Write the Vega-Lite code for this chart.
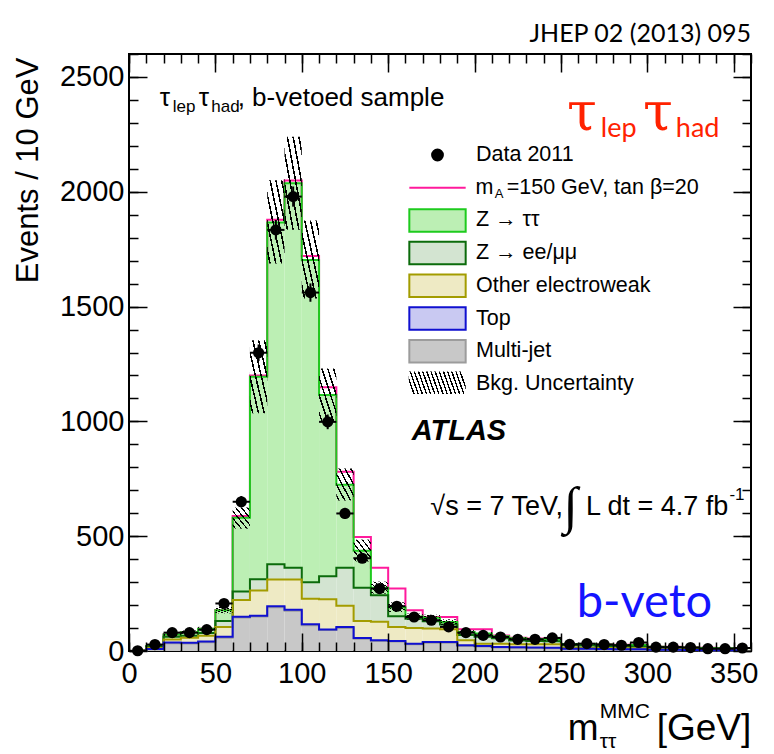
{
  "$schema": "https://vega.github.io/schema/vega-lite/v6.json",
  "width": 622,
  "height": 597,
  "autosize": {"type": "none"},
  "padding": {"left": 129, "top": 54, "right": 23, "bottom": 103},
  "background": "white",
  "config": {"view": {"stroke": "black", "strokeWidth": 2}},
  "resolve": {"axis": {"x": "independent", "y": "independent"}},
  "datasets": {
    "bins": [
      {"lo": 0, "hi": 10, "m": 5, "mj": 0, "top": 0, "ew": 1, "zll": 1, "ztt": 2, "sig": 2, "u_lo": 2, "u_hi": 2, "n": 1, "err": 1},
      {"lo": 10, "hi": 20, "m": 15, "mj": 8, "top": 9, "ew": 13, "zll": 18, "ztt": 22, "sig": 22, "u_lo": 20, "u_hi": 24, "n": 28, "err": 5},
      {"lo": 20, "hi": 30, "m": 25, "mj": 34, "top": 37, "ew": 50, "zll": 62, "ztt": 72, "sig": 72, "u_lo": 66, "u_hi": 78, "n": 80, "err": 9},
      {"lo": 30, "hi": 40, "m": 35, "mj": 33, "top": 36, "ew": 58, "zll": 66, "ztt": 82, "sig": 82, "u_lo": 75, "u_hi": 89, "n": 80, "err": 9},
      {"lo": 40, "hi": 50, "m": 45, "mj": 38, "top": 41, "ew": 66, "zll": 78, "ztt": 97, "sig": 97, "u_lo": 89, "u_hi": 105, "n": 93, "err": 10},
      {"lo": 50, "hi": 60, "m": 55, "mj": 58, "top": 62, "ew": 105, "zll": 131, "ztt": 178, "sig": 179, "u_lo": 164, "u_hi": 192, "n": 207, "err": 14},
      {"lo": 60, "hi": 70, "m": 65, "mj": 146, "top": 149, "ew": 222, "zll": 259, "ztt": 580, "sig": 588, "u_lo": 533, "u_hi": 625, "n": 650, "err": 25},
      {"lo": 70, "hi": 80, "m": 75, "mj": 150, "top": 154, "ew": 263, "zll": 313, "ztt": 1194, "sig": 1200, "u_lo": 1035, "u_hi": 1353, "n": 1299, "err": 36},
      {"lo": 80, "hi": 90, "m": 85, "mj": 190, "top": 195, "ew": 311, "zll": 378, "ztt": 1866, "sig": 1878, "u_lo": 1688, "u_hi": 2050, "n": 1834, "err": 43},
      {"lo": 90, "hi": 100, "m": 95, "mj": 175, "top": 180, "ew": 311, "zll": 363, "ztt": 2037, "sig": 2049, "u_lo": 1835, "u_hi": 2240, "n": 1979, "err": 44},
      {"lo": 100, "hi": 110, "m": 105, "mj": 112, "top": 117, "ew": 228, "zll": 299, "ztt": 1703, "sig": 1720, "u_lo": 1535, "u_hi": 1875, "n": 1561, "err": 40},
      {"lo": 110, "hi": 120, "m": 115, "mj": 91, "top": 94, "ew": 225, "zll": 326, "ztt": 1115, "sig": 1149, "u_lo": 1000, "u_hi": 1230, "n": 998, "err": 32},
      {"lo": 120, "hi": 130, "m": 125, "mj": 100, "top": 105, "ew": 197, "zll": 363, "ztt": 724, "sig": 781, "u_lo": 655, "u_hi": 795, "n": 599, "err": 24},
      {"lo": 130, "hi": 140, "m": 135, "mj": 53, "top": 57, "ew": 131, "zll": 276, "ztt": 437, "sig": 496, "u_lo": 390, "u_hi": 485, "n": 404, "err": 20},
      {"lo": 140, "hi": 150, "m": 145, "mj": 44, "top": 47, "ew": 127, "zll": 243, "ztt": 276, "sig": 363, "u_lo": 250, "u_hi": 302, "n": 272, "err": 16},
      {"lo": 150, "hi": 160, "m": 155, "mj": 41, "top": 44, "ew": 105, "zll": 151, "ztt": 191, "sig": 272, "u_lo": 170, "u_hi": 212, "n": 195, "err": 14},
      {"lo": 160, "hi": 170, "m": 165, "mj": 29, "top": 32, "ew": 100, "zll": 140, "ztt": 150, "sig": 177, "u_lo": 137, "u_hi": 163, "n": 148, "err": 12},
      {"lo": 170, "hi": 180, "m": 175, "mj": 36, "top": 39, "ew": 98, "zll": 130, "ztt": 145, "sig": 148, "u_lo": 132, "u_hi": 158, "n": 134, "err": 12},
      {"lo": 180, "hi": 190, "m": 185, "mj": 36, "top": 39, "ew": 95, "zll": 115, "ztt": 126, "sig": 148, "u_lo": 114, "u_hi": 138, "n": 105, "err": 10},
      {"lo": 190, "hi": 200, "m": 195, "mj": 22, "top": 25, "ew": 47, "zll": 70, "ztt": 83, "sig": 95, "u_lo": 75, "u_hi": 91, "n": 80, "err": 9},
      {"lo": 200, "hi": 210, "m": 205, "mj": 20, "top": 22, "ew": 32, "zll": 62, "ztt": 76, "sig": 95, "u_lo": 69, "u_hi": 83, "n": 68, "err": 8},
      {"lo": 210, "hi": 220, "m": 215, "mj": 15, "top": 17, "ew": 32, "zll": 55, "ztt": 64, "sig": 68, "u_lo": 58, "u_hi": 70, "n": 61, "err": 8},
      {"lo": 220, "hi": 230, "m": 225, "mj": 14, "top": 16, "ew": 29, "zll": 46, "ztt": 55, "sig": 58, "u_lo": 50, "u_hi": 60, "n": 51, "err": 7},
      {"lo": 230, "hi": 240, "m": 235, "mj": 13, "top": 15, "ew": 29, "zll": 44, "ztt": 52, "sig": 54, "u_lo": 47, "u_hi": 57, "n": 51, "err": 7},
      {"lo": 240, "hi": 250, "m": 245, "mj": 12, "top": 14, "ew": 29, "zll": 42, "ztt": 50, "sig": 52, "u_lo": 45, "u_hi": 55, "n": 57, "err": 8},
      {"lo": 250, "hi": 260, "m": 255, "mj": 8, "top": 10, "ew": 15, "zll": 25, "ztt": 30, "sig": 31, "u_lo": 27, "u_hi": 33, "n": 29, "err": 5},
      {"lo": 260, "hi": 270, "m": 265, "mj": 8, "top": 10, "ew": 14, "zll": 24, "ztt": 30, "sig": 31, "u_lo": 27, "u_hi": 33, "n": 32, "err": 6},
      {"lo": 270, "hi": 280, "m": 275, "mj": 7, "top": 9, "ew": 13, "zll": 22, "ztt": 28, "sig": 29, "u_lo": 25, "u_hi": 31, "n": 28, "err": 5},
      {"lo": 280, "hi": 290, "m": 285, "mj": 6, "top": 8, "ew": 12, "zll": 20, "ztt": 26, "sig": 27, "u_lo": 23, "u_hi": 29, "n": 25, "err": 5},
      {"lo": 290, "hi": 300, "m": 295, "mj": 6, "top": 8, "ew": 12, "zll": 20, "ztt": 26, "sig": 27, "u_lo": 23, "u_hi": 29, "n": 37, "err": 6},
      {"lo": 300, "hi": 310, "m": 305, "mj": 3, "top": 5, "ew": 8, "zll": 14, "ztt": 18, "sig": 19, "u_lo": 16, "u_hi": 20, "n": 17, "err": 4},
      {"lo": 310, "hi": 320, "m": 315, "mj": 3, "top": 5, "ew": 8, "zll": 13, "ztt": 17, "sig": 18, "u_lo": 15, "u_hi": 19, "n": 17, "err": 4},
      {"lo": 320, "hi": 330, "m": 325, "mj": 3, "top": 4, "ew": 7, "zll": 12, "ztt": 15, "sig": 16, "u_lo": 13, "u_hi": 17, "n": 15, "err": 4},
      {"lo": 330, "hi": 340, "m": 335, "mj": 2, "top": 3, "ew": 6, "zll": 10, "ztt": 13, "sig": 14, "u_lo": 12, "u_hi": 14, "n": 10, "err": 3},
      {"lo": 340, "hi": 350, "m": 345, "mj": 2, "top": 3, "ew": 6, "zll": 10, "ztt": 12, "sig": 13, "u_lo": 11, "u_hi": 13, "n": 10, "err": 3},
      {"lo": 350, "hi": 360, "m": 355, "mj": 2, "top": 3, "ew": 6, "zll": 10, "ztt": 12, "sig": 13, "u_lo": 11, "u_hi": 13, "n": 13, "err": 4}
    ],
    "keys": [
      {"comp": "Data 2011"},
      {"comp": "signal"},
      {"comp": "Z → ττ"},
      {"comp": "Z → ee/μμ"},
      {"comp": "Other electroweak"},
      {"comp": "Top"},
      {"comp": "Multi-jet"},
      {"comp": "Bkg. Uncertainty"}
    ]
  },
  "layer": [
    {
      "data": {"name": "bins"},
      "mark": {"type": "bar", "fill": "#c8c8c8"},
      "encoding": {
        "x": {"field": "lo", "type": "quantitative", "scale": {"domain": [0, 360], "nice": false},
          "axis": {"orient": "bottom", "values": [0, 50, 100, 150, 200, 250, 300, 350], "tickSize": -18, "labelPadding": 26, "labelFlush": false, "labelOverlap": false, "labelBound": false, "format": "d", "labelFont": "Liberation Sans", "labelFontSize": 29, "labelColor": "black", "domain": false, "grid": false, "tickColor": "black", "tickWidth": 1.5, "zindex": 1, "title": null}},
        "x2": {"field": "hi"},
        "y": {"field": "mj", "type": "quantitative", "scale": {"domain": [0, 2600], "nice": false},
          "axis": {"orient": "left", "values": [0, 500, 1000, 1500, 2000, 2500], "tickSize": -18, "labelPadding": 23, "labelAlign": "right", "labelBaseline": "middle", "labelOverlap": false, "labelBound": false, "labelFlush": false, "format": "d", "labelFont": "Liberation Sans", "labelFontSize": 29, "labelColor": "black", "domain": false, "grid": false, "tickColor": "black", "tickWidth": 1.5, "zindex": 1,
            "title": "Events / 10 GeV", "titleFont": "Liberation Sans", "titleFontSize": 31, "titleFontWeight": "normal", "titleColor": "black", "titleAngle": 270, "titleAlign": "right", "titleBaseline": "alphabetic", "titleX": -92, "titleY": 3}},
        "y2": {"datum": 0}
      }
    },
    {
      "data": {"name": "bins"},
      "mark": {"type": "bar", "fill": "#c9c9f2"},
      "encoding": {
        "x": {"field": "lo", "type": "quantitative", "scale": {"domain": [0, 360], "nice": false},
          "axis": {"orient": "bottom", "values": [0, 10, 20, 30, 40, 50, 60, 70, 80, 90, 100, 110, 120, 130, 140, 150, 160, 170, 180, 190, 200, 210, 220, 230, 240, 250, 260, 270, 280, 290, 300, 310, 320, 330, 340, 350, 360], "tickSize": -9, "labels": false, "domain": false, "grid": false, "tickColor": "black", "tickWidth": 1.5, "zindex": 1, "title": null}},
        "x2": {"field": "hi"},
        "y": {"field": "top", "type": "quantitative", "scale": {"domain": [0, 2600], "nice": false},
          "axis": {"orient": "left", "values": [0, 100, 200, 300, 400, 500, 600, 700, 800, 900, 1000, 1100, 1200, 1300, 1400, 1500, 1600, 1700, 1800, 1900, 2000, 2100, 2200, 2300, 2400, 2500, 2600], "tickSize": -9, "labels": false, "domain": false, "grid": false, "tickColor": "black", "tickWidth": 1.5, "zindex": 1, "title": null}},
        "y2": {"field": "mj"}
      }
    },
    {
      "data": {"name": "bins"},
      "mark": {"type": "bar", "fill": "#eeeac4"},
      "encoding": {
        "x": {"field": "lo", "type": "quantitative", "scale": {"domain": [0, 360], "nice": false},
          "axis": {"orient": "top", "values": [0, 50, 100, 150, 200, 250, 300, 350], "tickSize": -18, "labels": false, "domain": false, "grid": false, "tickColor": "black", "tickWidth": 1.5, "zindex": 1, "title": null}},
        "x2": {"field": "hi"},
        "y": {"field": "ew", "type": "quantitative", "scale": {"domain": [0, 2600], "nice": false},
          "axis": {"orient": "right", "values": [0, 500, 1000, 1500, 2000, 2500], "tickSize": -18, "labels": false, "domain": false, "grid": false, "tickColor": "black", "tickWidth": 1.5, "zindex": 1, "title": null}},
        "y2": {"field": "top"}
      }
    },
    {
      "data": {"name": "bins"},
      "mark": {"type": "bar", "fill": "#d3e4d1"},
      "encoding": {
        "x": {"field": "lo", "type": "quantitative", "scale": {"domain": [0, 360], "nice": false},
          "axis": {"orient": "top", "values": [0, 10, 20, 30, 40, 50, 60, 70, 80, 90, 100, 110, 120, 130, 140, 150, 160, 170, 180, 190, 200, 210, 220, 230, 240, 250, 260, 270, 280, 290, 300, 310, 320, 330, 340, 350, 360], "tickSize": -9, "labels": false, "domain": false, "grid": false, "tickColor": "black", "tickWidth": 1.5, "zindex": 1, "title": null}},
        "x2": {"field": "hi"},
        "y": {"field": "zll", "type": "quantitative", "scale": {"domain": [0, 2600], "nice": false},
          "axis": {"orient": "right", "values": [0, 100, 200, 300, 400, 500, 600, 700, 800, 900, 1000, 1100, 1200, 1300, 1400, 1500, 1600, 1700, 1800, 1900, 2000, 2100, 2200, 2300, 2400, 2500, 2600], "tickSize": -9, "labels": false, "domain": false, "grid": false, "tickColor": "black", "tickWidth": 1.5, "zindex": 1, "title": null}},
        "y2": {"field": "ew"}
      }
    },
    {
      "data": {"name": "bins"},
      "mark": {"type": "bar", "fill": "#bcefb4"},
      "encoding": {
        "x": {"field": "lo", "type": "quantitative", "scale": {"domain": [0, 360], "nice": false}, "axis": null},
        "x2": {"field": "hi"},
        "y": {"field": "ztt", "type": "quantitative", "scale": {"domain": [0, 2600], "nice": false}, "axis": null},
        "y2": {"field": "zll"}
      }
    },
    {
      "data": {"name": "bins"},
      "mark": {"type": "line", "interpolate": "step", "stroke": "#ff1a9c", "strokeWidth": 2},
      "encoding": {
        "x": {"field": "m", "type": "quantitative", "scale": {"domain": [0, 360], "nice": false}, "axis": null},
        "y": {"field": "sig", "type": "quantitative", "scale": {"domain": [0, 2600], "nice": false}, "axis": null}
      }
    },
    {
      "data": {"name": "bins"},
      "mark": {"type": "line", "interpolate": "step", "stroke": "#1ecb1e", "strokeWidth": 2},
      "encoding": {
        "x": {"field": "m", "type": "quantitative", "scale": {"domain": [0, 360], "nice": false}, "axis": null},
        "y": {"field": "ztt", "type": "quantitative", "scale": {"domain": [0, 2600], "nice": false}, "axis": null}
      }
    },
    {
      "data": {"name": "bins"},
      "mark": {"type": "line", "interpolate": "step", "stroke": "#0b6b0b", "strokeWidth": 2},
      "encoding": {
        "x": {"field": "m", "type": "quantitative", "scale": {"domain": [0, 360], "nice": false}, "axis": null},
        "y": {"field": "zll", "type": "quantitative", "scale": {"domain": [0, 2600], "nice": false}, "axis": null}
      }
    },
    {
      "data": {"name": "bins"},
      "mark": {"type": "line", "interpolate": "step", "stroke": "#a39c00", "strokeWidth": 2},
      "encoding": {
        "x": {"field": "m", "type": "quantitative", "scale": {"domain": [0, 360], "nice": false}, "axis": null},
        "y": {"field": "ew", "type": "quantitative", "scale": {"domain": [0, 2600], "nice": false}, "axis": null}
      }
    },
    {
      "data": {"name": "bins"},
      "mark": {"type": "line", "interpolate": "step", "stroke": "#9c9c9c", "strokeWidth": 2},
      "encoding": {
        "x": {"field": "m", "type": "quantitative", "scale": {"domain": [0, 360], "nice": false}, "axis": null},
        "y": {"field": "mj", "type": "quantitative", "scale": {"domain": [0, 2600], "nice": false}, "axis": null}
      }
    },
    {
      "data": {"name": "bins"},
      "mark": {"type": "line", "interpolate": "step", "stroke": "#1010d0", "strokeWidth": 2},
      "encoding": {
        "x": {"field": "m", "type": "quantitative", "scale": {"domain": [0, 360], "nice": false}, "axis": null},
        "y": {"field": "top", "type": "quantitative", "scale": {"domain": [0, 2600], "nice": false}, "axis": null}
      }
    },
    {
      "data": {"name": "bins"},
      "mark": {"type": "bar", "fill": {"gradient": "linear", "x1": 0, "y1": 1, "x2": 1, "y2": 0, "stops": [
        {"offset": 0, "color": "rgba(0,0,0,0)"},
        {"offset": 0.06, "color": "rgba(0,0,0,0)"}, {"offset": 0.06, "color": "#000"}, {"offset": 0.105, "color": "#000"}, {"offset": 0.105, "color": "rgba(0,0,0,0)"},
        {"offset": 0.2267, "color": "rgba(0,0,0,0)"}, {"offset": 0.2267, "color": "#000"}, {"offset": 0.2717, "color": "#000"}, {"offset": 0.2717, "color": "rgba(0,0,0,0)"},
        {"offset": 0.3933, "color": "rgba(0,0,0,0)"}, {"offset": 0.3933, "color": "#000"}, {"offset": 0.4383, "color": "#000"}, {"offset": 0.4383, "color": "rgba(0,0,0,0)"},
        {"offset": 0.56, "color": "rgba(0,0,0,0)"}, {"offset": 0.56, "color": "#000"}, {"offset": 0.605, "color": "#000"}, {"offset": 0.605, "color": "rgba(0,0,0,0)"},
        {"offset": 0.7267, "color": "rgba(0,0,0,0)"}, {"offset": 0.7267, "color": "#000"}, {"offset": 0.7717, "color": "#000"}, {"offset": 0.7717, "color": "rgba(0,0,0,0)"},
        {"offset": 0.8933, "color": "rgba(0,0,0,0)"}, {"offset": 0.8933, "color": "#000"}, {"offset": 0.9383, "color": "#000"}, {"offset": 0.9383, "color": "rgba(0,0,0,0)"},
        {"offset": 1, "color": "rgba(0,0,0,0)"}
      ]}},
      "encoding": {
        "x": {"field": "lo", "type": "quantitative", "scale": {"domain": [0, 360], "nice": false}, "axis": null},
        "x2": {"field": "hi"},
        "y": {"field": "u_hi", "type": "quantitative", "scale": {"domain": [0, 2600], "nice": false}, "axis": null},
        "y2": {"field": "u_lo"}
      }
    },
    {
      "data": {"name": "bins"},
      "mark": {"type": "rule", "color": "black", "strokeWidth": 2},
      "encoding": {
        "x": {"field": "lo", "type": "quantitative", "scale": {"domain": [0, 360], "nice": false}, "axis": null},
        "x2": {"field": "hi"},
        "y": {"field": "n", "type": "quantitative", "scale": {"domain": [0, 2600], "nice": false}, "axis": null}
      }
    },
    {
      "data": {"name": "bins"},
      "mark": {"type": "errorbar", "ticks": false, "thickness": 2, "color": "black"},
      "encoding": {
        "x": {"field": "m", "type": "quantitative", "scale": {"domain": [0, 360], "nice": false}, "axis": null},
        "y": {"field": "n", "type": "quantitative", "scale": {"domain": [0, 2600], "nice": false}, "axis": null, "title": null},
        "yError": {"field": "err"}
      }
    },
    {
      "data": {"name": "bins"},
      "mark": {"type": "circle", "size": 125, "color": "black", "opacity": 1},
      "encoding": {
        "x": {"field": "m", "type": "quantitative", "scale": {"domain": [0, 360], "nice": false}, "axis": null},
        "y": {"field": "n", "type": "quantitative", "scale": {"domain": [0, 2600], "nice": false}, "axis": null}
      }
    },
    {
      "data": {"values": [{}]},
      "mark": {"type": "bar", "fill": {"gradient": "linear", "x1": 0, "y1": 0.57, "x2": 1, "y2": 0.43, "stops": [
        {"offset": 0, "color": "rgba(0,0,0,0)"},
        {"offset": 0.02, "color": "rgba(0,0,0,0)"}, {"offset": 0.02, "color": "#000"}, {"offset": 0.045, "color": "#000"}, {"offset": 0.045, "color": "rgba(0,0,0,0)"},
        {"offset": 0.0914, "color": "rgba(0,0,0,0)"}, {"offset": 0.0914, "color": "#000"}, {"offset": 0.1164, "color": "#000"}, {"offset": 0.1164, "color": "rgba(0,0,0,0)"},
        {"offset": 0.1629, "color": "rgba(0,0,0,0)"}, {"offset": 0.1629, "color": "#000"}, {"offset": 0.1879, "color": "#000"}, {"offset": 0.1879, "color": "rgba(0,0,0,0)"},
        {"offset": 0.2343, "color": "rgba(0,0,0,0)"}, {"offset": 0.2343, "color": "#000"}, {"offset": 0.2593, "color": "#000"}, {"offset": 0.2593, "color": "rgba(0,0,0,0)"},
        {"offset": 0.3057, "color": "rgba(0,0,0,0)"}, {"offset": 0.3057, "color": "#000"}, {"offset": 0.3307, "color": "#000"}, {"offset": 0.3307, "color": "rgba(0,0,0,0)"},
        {"offset": 0.3771, "color": "rgba(0,0,0,0)"}, {"offset": 0.3771, "color": "#000"}, {"offset": 0.4021, "color": "#000"}, {"offset": 0.4021, "color": "rgba(0,0,0,0)"},
        {"offset": 0.4486, "color": "rgba(0,0,0,0)"}, {"offset": 0.4486, "color": "#000"}, {"offset": 0.4736, "color": "#000"}, {"offset": 0.4736, "color": "rgba(0,0,0,0)"},
        {"offset": 0.52, "color": "rgba(0,0,0,0)"}, {"offset": 0.52, "color": "#000"}, {"offset": 0.545, "color": "#000"}, {"offset": 0.545, "color": "rgba(0,0,0,0)"},
        {"offset": 0.5914, "color": "rgba(0,0,0,0)"}, {"offset": 0.5914, "color": "#000"}, {"offset": 0.6164, "color": "#000"}, {"offset": 0.6164, "color": "rgba(0,0,0,0)"},
        {"offset": 0.6629, "color": "rgba(0,0,0,0)"}, {"offset": 0.6629, "color": "#000"}, {"offset": 0.6879, "color": "#000"}, {"offset": 0.6879, "color": "rgba(0,0,0,0)"},
        {"offset": 0.7343, "color": "rgba(0,0,0,0)"}, {"offset": 0.7343, "color": "#000"}, {"offset": 0.7593, "color": "#000"}, {"offset": 0.7593, "color": "rgba(0,0,0,0)"},
        {"offset": 0.8057, "color": "rgba(0,0,0,0)"}, {"offset": 0.8057, "color": "#000"}, {"offset": 0.8307, "color": "#000"}, {"offset": 0.8307, "color": "rgba(0,0,0,0)"},
        {"offset": 0.8771, "color": "rgba(0,0,0,0)"}, {"offset": 0.8771, "color": "#000"}, {"offset": 0.9021, "color": "#000"}, {"offset": 0.9021, "color": "rgba(0,0,0,0)"},
        {"offset": 0.9486, "color": "rgba(0,0,0,0)"}, {"offset": 0.9486, "color": "#000"}, {"offset": 0.9736, "color": "#000"}, {"offset": 0.9736, "color": "rgba(0,0,0,0)"},
        {"offset": 1, "color": "rgba(0,0,0,0)"}
      ]}},
      "encoding": {
        "x": {"datum": 161.9, "type": "quantitative", "scale": {"domain": [0, 360], "nice": false}, "axis": null},
        "x2": {"datum": 194.9},
        "y": {"datum": 1217, "type": "quantitative", "scale": {"domain": [0, 2600], "nice": false}, "axis": null},
        "y2": {"datum": 1119}
      }
    },
    {
      "data": {"values": [{}]},
      "mark": {"type": "text", "text": "JHEP 02 (2013) 095", "font": "Lato", "fontSize": 25, "align": "right", "baseline": "alphabetic", "color": "black"},
      "encoding": {"x": {"datum": 360, "type": "quantitative", "scale": {"domain": [0, 360], "nice": false}, "axis": null}, "y": {"datum": 2654, "type": "quantitative", "scale": {"domain": [0, 2600], "nice": false}, "axis": null}}
    },
    {
      "data": {"values": [{}]},
      "mark": {"type": "text", "text": "τ", "font": "Liberation Sans", "fontSize": 26, "align": "left", "baseline": "alphabetic", "color": "black"},
      "encoding": {"x": {"datum": 17.8, "type": "quantitative", "scale": {"domain": [0, 360], "nice": false}, "axis": null}, "y": {"datum": 2374, "type": "quantitative", "scale": {"domain": [0, 2600], "nice": false}, "axis": null}}
    },
    {
      "data": {"values": [{}]},
      "mark": {"type": "text", "text": "lep", "font": "Liberation Sans", "fontSize": 17, "align": "left", "baseline": "alphabetic", "color": "black"},
      "encoding": {"x": {"datum": 25.3, "type": "quantitative", "scale": {"domain": [0, 360], "nice": false}, "axis": null}, "y": {"datum": 2346, "type": "quantitative", "scale": {"domain": [0, 2600], "nice": false}, "axis": null}}
    },
    {
      "data": {"values": [{}]},
      "mark": {"type": "text", "text": "τ", "font": "Liberation Sans", "fontSize": 26, "align": "left", "baseline": "alphabetic", "color": "black"},
      "encoding": {"x": {"datum": 40.3, "type": "quantitative", "scale": {"domain": [0, 360], "nice": false}, "axis": null}, "y": {"datum": 2374, "type": "quantitative", "scale": {"domain": [0, 2600], "nice": false}, "axis": null}}
    },
    {
      "data": {"values": [{}]},
      "mark": {"type": "text", "text": "had", "font": "Liberation Sans", "fontSize": 17, "align": "left", "baseline": "alphabetic", "color": "black"},
      "encoding": {"x": {"datum": 47.6, "type": "quantitative", "scale": {"domain": [0, 360], "nice": false}, "axis": null}, "y": {"datum": 2346, "type": "quantitative", "scale": {"domain": [0, 2600], "nice": false}, "axis": null}}
    },
    {
      "data": {"values": [{}]},
      "mark": {"type": "text", "text": ", b-vetoed sample", "font": "Liberation Sans", "fontSize": 26, "align": "left", "baseline": "alphabetic", "color": "black"},
      "encoding": {"x": {"datum": 62.9, "type": "quantitative", "scale": {"domain": [0, 360], "nice": false}, "axis": null}, "y": {"datum": 2374, "type": "quantitative", "scale": {"domain": [0, 2600], "nice": false}, "axis": null}}
    },
    {
      "data": {"values": [{}]},
      "mark": {"type": "text", "text": "τ", "font": "DejaVu Serif", "fontSize": 54, "align": "left", "baseline": "alphabetic", "color": "#ff2200"},
      "encoding": {"x": {"datum": 253.5, "type": "quantitative", "scale": {"domain": [0, 360], "nice": false}, "axis": null}, "y": {"datum": 2270, "type": "quantitative", "scale": {"domain": [0, 2600], "nice": false}, "axis": null}}
    },
    {
      "data": {"values": [{}]},
      "mark": {"type": "text", "text": "lep", "font": "Lato", "fontSize": 27, "align": "left", "baseline": "alphabetic", "color": "#ff2200"},
      "encoding": {"x": {"datum": 273.1, "type": "quantitative", "scale": {"domain": [0, 360], "nice": false}, "axis": null}, "y": {"datum": 2240, "type": "quantitative", "scale": {"domain": [0, 2600], "nice": false}, "axis": null}}
    },
    {
      "data": {"values": [{}]},
      "mark": {"type": "text", "text": "τ", "font": "DejaVu Serif", "fontSize": 54, "align": "left", "baseline": "alphabetic", "color": "#ff2200"},
      "encoding": {"x": {"datum": 297.5, "type": "quantitative", "scale": {"domain": [0, 360], "nice": false}, "axis": null}, "y": {"datum": 2270, "type": "quantitative", "scale": {"domain": [0, 2600], "nice": false}, "axis": null}}
    },
    {
      "data": {"values": [{}]},
      "mark": {"type": "text", "text": "had", "font": "Lato", "fontSize": 27, "align": "left", "baseline": "alphabetic", "color": "#ff2200"},
      "encoding": {"x": {"datum": 316.5, "type": "quantitative", "scale": {"domain": [0, 360], "nice": false}, "axis": null}, "y": {"datum": 2240, "type": "quantitative", "scale": {"domain": [0, 2600], "nice": false}, "axis": null}}
    },
    {
      "data": {"values": [{}]},
      "mark": {"type": "text", "text": "m", "font": "Liberation Sans", "fontSize": 21.5, "align": "left", "baseline": "alphabetic", "color": "black"},
      "encoding": {"x": {"datum": 200.6, "type": "quantitative", "scale": {"domain": [0, 360], "nice": false}, "axis": null}, "y": {"datum": 1991, "type": "quantitative", "scale": {"domain": [0, 2600], "nice": false}, "axis": null}}
    },
    {
      "data": {"values": [{}]},
      "mark": {"type": "text", "text": "A", "font": "Liberation Sans", "fontSize": 13, "align": "left", "baseline": "alphabetic", "color": "black"},
      "encoding": {"x": {"datum": 211.7, "type": "quantitative", "scale": {"domain": [0, 360], "nice": false}, "axis": null}, "y": {"datum": 1972, "type": "quantitative", "scale": {"domain": [0, 2600], "nice": false}, "axis": null}}
    },
    {
      "data": {"values": [{}]},
      "mark": {"type": "text", "text": "=150 GeV, tan β=20", "font": "Liberation Sans", "fontSize": 21.5, "align": "left", "baseline": "alphabetic", "color": "black"},
      "encoding": {"x": {"datum": 218.6, "type": "quantitative", "scale": {"domain": [0, 360], "nice": false}, "axis": null}, "y": {"datum": 1991, "type": "quantitative", "scale": {"domain": [0, 2600], "nice": false}, "axis": null}}
    },
    {
      "data": {"values": [{}]},
      "mark": {"type": "text", "text": "ATLAS", "font": "Liberation Sans", "fontSize": 29, "fontWeight": "bold", "fontStyle": "italic", "align": "left", "baseline": "alphabetic", "color": "black"},
      "encoding": {"x": {"datum": 163.6, "type": "quantitative", "scale": {"domain": [0, 360], "nice": false}, "axis": null}, "y": {"datum": 918, "type": "quantitative", "scale": {"domain": [0, 2600], "nice": false}, "axis": null}}
    },
    {
      "data": {"values": [{}]},
      "mark": {"type": "text", "text": "√s = 7 TeV,", "font": "Liberation Sans", "fontSize": 27, "align": "left", "baseline": "alphabetic", "color": "black"},
      "encoding": {"x": {"datum": 174.4, "type": "quantitative", "scale": {"domain": [0, 360], "nice": false}, "axis": null}, "y": {"datum": 592, "type": "quantitative", "scale": {"domain": [0, 2600], "nice": false}, "axis": null}}
    },
    {
      "data": {"values": [{}]},
      "mark": {"type": "text", "text": "∫", "font": "Liberation Serif", "fontSize": 52, "align": "left", "baseline": "alphabetic", "color": "black"},
      "encoding": {"x": {"datum": 251.5, "type": "quantitative", "scale": {"domain": [0, 360], "nice": false}, "axis": null}, "y": {"datum": 558, "type": "quantitative", "scale": {"domain": [0, 2600], "nice": false}, "axis": null}}
    },
    {
      "data": {"values": [{}]},
      "mark": {"type": "text", "text": "L dt = 4.7 fb", "font": "Liberation Sans", "fontSize": 27, "align": "left", "baseline": "alphabetic", "color": "black"},
      "encoding": {"x": {"datum": 264.5, "type": "quantitative", "scale": {"domain": [0, 360], "nice": false}, "axis": null}, "y": {"datum": 592, "type": "quantitative", "scale": {"domain": [0, 2600], "nice": false}, "axis": null}}
    },
    {
      "data": {"values": [{}]},
      "mark": {"type": "text", "text": "-1", "font": "Liberation Sans", "fontSize": 17, "align": "left", "baseline": "alphabetic", "color": "black"},
      "encoding": {"x": {"datum": 347.5, "type": "quantitative", "scale": {"domain": [0, 360], "nice": false}, "axis": null}, "y": {"datum": 657, "type": "quantitative", "scale": {"domain": [0, 2600], "nice": false}, "axis": null}}
    },
    {
      "data": {"values": [{}]},
      "mark": {"type": "text", "text": "b-veto", "font": "Lato", "fontSize": 47, "align": "left", "baseline": "alphabetic", "color": "#1414ff"},
      "encoding": {"x": {"datum": 259.1, "type": "quantitative", "scale": {"domain": [0, 360], "nice": false}, "axis": null}, "y": {"datum": 147, "type": "quantitative", "scale": {"domain": [0, 2600], "nice": false}, "axis": null}}
    },
    {
      "data": {"values": [{}]},
      "mark": {"type": "text", "text": "m", "font": "Liberation Sans", "fontSize": 37, "align": "left", "baseline": "alphabetic", "color": "black"},
      "encoding": {"x": {"datum": 253.9, "type": "quantitative", "scale": {"domain": [0, 360], "nice": false}, "axis": null}, "y": {"datum": -386, "type": "quantitative", "scale": {"domain": [0, 2600], "nice": false}, "axis": null}}
    },
    {
      "data": {"values": [{}]},
      "mark": {"type": "text", "text": "MMC", "font": "Liberation Sans", "fontSize": 21, "align": "left", "baseline": "alphabetic", "color": "black"},
      "encoding": {"x": {"datum": 272.4, "type": "quantitative", "scale": {"domain": [0, 360], "nice": false}, "axis": null}, "y": {"datum": -290, "type": "quantitative", "scale": {"domain": [0, 2600], "nice": false}, "axis": null}}
    },
    {
      "data": {"values": [{}]},
      "mark": {"type": "text", "text": "ττ", "font": "Liberation Sans", "fontSize": 21, "align": "left", "baseline": "alphabetic", "color": "black"},
      "encoding": {"x": {"datum": 272.4, "type": "quantitative", "scale": {"domain": [0, 360], "nice": false}, "axis": null}, "y": {"datum": -424, "type": "quantitative", "scale": {"domain": [0, 2600], "nice": false}, "axis": null}}
    },
    {
      "data": {"values": [{}]},
      "mark": {"type": "text", "text": "[GeV]", "font": "Liberation Sans", "fontSize": 37, "align": "left", "baseline": "alphabetic", "color": "black"},
      "encoding": {"x": {"datum": 305.4, "type": "quantitative", "scale": {"domain": [0, 360], "nice": false}, "axis": null}, "y": {"datum": -386, "type": "quantitative", "scale": {"domain": [0, 2600], "nice": false}, "axis": null}}
    },
    {
      "data": {"name": "keys"},
      "mark": {"type": "point", "clip": true, "size": 529, "strokeWidth": 2, "opacity": 1},
      "encoding": {
        "x": {"datum": -50, "type": "quantitative", "scale": {"domain": [0, 360], "nice": false}, "axis": null},
        "y": {"datum": -500, "type": "quantitative", "scale": {"domain": [0, 2600], "nice": false}, "axis": null},
        "shape": {"field": "comp", "type": "nominal",
          "scale": {"domain": ["Data 2011", "signal", "Z → ττ", "Z → ee/μμ", "Other electroweak", "Top", "Multi-jet", "Bkg. Uncertainty"],
            "range": ["M-2.45,-0.98M2.45,0.98M0,-0.47A0.47,0.47,0,1,1,0,0.47A0.47,0.47,0,1,1,0,-0.47Z", "M-2.45,-0.98M2.45,0.98M-2.45,0H2.45", "M-2.45,-0.98H2.45V0.98H-2.45Z", "M-2.45,-0.98H2.45V0.98H-2.45Z", "M-2.45,-0.98H2.45V0.98H-2.45Z", "M-2.45,-0.98H2.45V0.98H-2.45Z", "M-2.45,-0.98H2.45V0.98H-2.45Z", "M-2.45,-0.98H2.45V0.98H-2.45Z"]},
          "legend": {"orient": "none", "legendX": 296, "legendY": 88.5, "title": null, "padding": 0, "rowPadding": 1.7, "labelOffset": 26, "labelFont": "Liberation Sans", "labelFontSize": 21.5, "labelColor": "black", "symbolSize": 529, "symbolStrokeWidth": 2, "labelLimit": 400, "labelExpr": "datum.label === 'signal' ? '' : datum.label"}},
        "fill": {"field": "comp", "type": "nominal",
          "scale": {"domain": ["Data 2011", "signal", "Z → ττ", "Z → ee/μμ", "Other electroweak", "Top", "Multi-jet", "Bkg. Uncertainty"],
            "range": ["black", "rgba(0,0,0,0)", "#bcefb4", "#d3e4d1", "#eeeac4", "#c9c9f2", "#c8c8c8", "rgba(0,0,0,0)"]},
          "legend": {"orient": "none", "legendX": 296, "legendY": 88.5, "title": null, "padding": 0, "rowPadding": 1.7, "labelOffset": 26, "labelFont": "Liberation Sans", "labelFontSize": 21.5, "labelColor": "black", "symbolSize": 529, "symbolStrokeWidth": 2, "labelLimit": 400, "labelExpr": "datum.label === 'signal' ? '' : datum.label"}},
        "stroke": {"field": "comp", "type": "nominal",
          "scale": {"domain": ["Data 2011", "signal", "Z → ττ", "Z → ee/μμ", "Other electroweak", "Top", "Multi-jet", "Bkg. Uncertainty"],
            "range": ["black", "#ff1a9c", "#1ecb1e", "#0b6b0b", "#a39c00", "#1010d0", "#9c9c9c", "rgba(0,0,0,0)"]},
          "legend": {"orient": "none", "legendX": 296, "legendY": 88.5, "title": null, "padding": 0, "rowPadding": 1.7, "labelOffset": 26, "labelFont": "Liberation Sans", "labelFontSize": 21.5, "labelColor": "black", "symbolSize": 529, "symbolStrokeWidth": 2, "labelLimit": 400, "labelExpr": "datum.label === 'signal' ? '' : datum.label"}}
      }
    }
  ]
}
